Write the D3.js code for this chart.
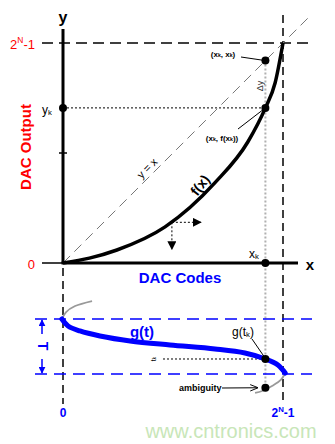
<!DOCTYPE html>
<html>
<head>
<meta charset="utf-8">
<script src="https://cdn.jsdelivr.net/npm/d3@7"></script>
<style>
  body { margin: 0; background: #fff; }
  svg { display: block; font-family: "Liberation Sans", Arial, sans-serif; }
</style>
</head>
<body>
<svg id="chart" width="335" height="444"></svg>
<script>
// transfer curve f(x), normalised codes / output
const fCodes  = [0, 0.12, 0.245, 0.464, 0.69, 0.84, 0.92, 0.964, 1];
const fOutput = [0, 0.022, 0.059, 0.164, 0.364, 0.55, 0.705, 0.818, 1];

// g(t), code against normalised time (0 .. T)
const gCodes = [-0.005, 0.023, 0.077, 0.168, 0.305, 0.486, 0.691, 0.827, 0.92, 0.977, 1.01];
const gTime  = [0, 0.127, 0.218, 0.309, 0.40, 0.473, 0.545, 0.618, 0.727, 0.836, 0.982];
// grey continuation outside the period
const gTopCodes = [0.132, 0.055, 0.014, -0.005];
const gTopTime  = [-0.327, -0.236, -0.127, 0];
const gLowCodes = [1.01, 0.99, 0.95, 0.905, 0.873];
const gLowTime  = [0.982, 1.109, 1.218, 1.309, 1.345];

const xk = 0.92, yk = 0.705, tk = 0.727, tAmb = 1.25;
const arrowCode = 0.495, arrowOut = 0.185;

const svg = d3.select("#chart");

const xScale = d3.scaleLinear().domain([0, 1]).range([63, 283]);
const yScale = d3.scaleLinear().domain([0, 1]).range([263, 43]);
const tScale = d3.scaleLinear().domain([0, 1]).range([319, 374]);

const RED = "#ff0000", BLUE = "#0000ff";

const defs = svg.append("defs");
defs.append("marker").attr("id", "headBlack")
    .attr("viewBox", "0 0 10 10").attr("refX", 9).attr("refY", 5)
    .attr("markerWidth", 9).attr("markerHeight", 9).attr("markerUnits", "userSpaceOnUse")
    .attr("orient", "auto")
    .append("path").attr("d", "M0,0L10,5L0,10Z").attr("fill", "#000");
defs.append("marker").attr("id", "headBlue")
    .attr("viewBox", "0 0 10 10").attr("refX", 9).attr("refY", 5)
    .attr("markerWidth", 7).attr("markerHeight", 7).attr("markerUnits", "userSpaceOnUse")
    .attr("orient", "auto")
    .append("path").attr("d", "M0,0L10,5L0,10Z").attr("fill", BLUE);
defs.append("marker").attr("id", "headOpen")
    .attr("viewBox", "0 0 10 10").attr("refX", 9).attr("refY", 5)
    .attr("markerWidth", 8).attr("markerHeight", 8).attr("markerUnits", "userSpaceOnUse")
    .attr("orient", "auto")
    .append("path").attr("d", "M0,1L10,5L0,9").attr("fill", "none").attr("stroke", "#000").attr("stroke-width", 1.2);

function seg(x1, y1, x2, y2, stroke, width, dash) {
    return svg.append("line")
        .attr("x1", x1).attr("y1", y1).attr("x2", x2).attr("y2", y2)
        .attr("stroke", stroke).attr("stroke-width", width)
        .attr("stroke-dasharray", dash || null);
}

// reference lines
seg(42, yScale(1), 312, yScale(1), "#000", 1.5, "11,6");
seg(xScale(1), 15, xScale(1), 404, "#000", 1.5, "8,5");
seg(xScale(0), 268, xScale(0), 404, "#000", 1.5, "8,5");
seg(xScale(0), yScale(0), xScale(1.12), yScale(1.12), "#777", 1, "10,6");
seg(xScale(0), yScale(yk), xScale(xk), yScale(yk), "#000", 1, "2,2");
seg(xScale(xk), yScale(xk), xScale(xk), tScale(tAmb), "#b0b0b0", 2, "2,2");

// blue period lines
seg(35, tScale(0), 312, tScale(0), BLUE, 1.5, "12,7");
seg(35, tScale(1), 312, tScale(1), BLUE, 1.5, "12,7");
seg(163, tScale(tk), xScale(xk), tScale(tk), "#000", 1, "2,2");

// axes
seg(xScale(0), 29, xScale(0), yScale(0), "#000", 3);
seg(xScale(0) - 1.5, yScale(0), 298, yScale(0), "#000", 3);
seg(42, yScale(0), xScale(0), yScale(0), "#000", 1.5);
seg(59, 153, 67, 153, "#000", 1.5);

// f(x)
const fLine = d3.line()
    .x(d => xScale(d[0])).y(d => yScale(d[1]))
    .curve(d3.curveMonotoneX);
svg.append("path")
    .attr("d", fLine(d3.zip(fCodes, fOutput)))
    .attr("fill", "none").attr("stroke", "#000").attr("stroke-width", 3.5);

// g(t)
const gLine = d3.line()
    .x(d => xScale(d[0])).y(d => tScale(d[1]))
    .curve(d3.curveCatmullRom);
svg.append("path")
    .attr("d", gLine(d3.zip(gTopCodes, gTopTime)))
    .attr("fill", "none").attr("stroke", "#999").attr("stroke-width", 1.8);
svg.append("path")
    .attr("d", gLine(d3.zip(gLowCodes, gLowTime)))
    .attr("fill", "none").attr("stroke", "#999").attr("stroke-width", 1.8);
svg.append("path")
    .attr("d", gLine(d3.zip(gCodes, gTime)))
    .attr("fill", "none").attr("stroke", BLUE).attr("stroke-width", 5)
    .attr("stroke-linecap", "round");

// small direction arrows on f(x)
const ax = xScale(arrowCode), ay = yScale(arrowOut);
seg(ax, ay, ax + 29, ay, "#000", 1, "2,2").attr("marker-end", "url(#headBlack)");
seg(ax, ay, ax, ay + 27, "#000", 1, "2,2").attr("marker-end", "url(#headBlack)");

// T arrows
seg(42, 334, 42, 320, BLUE, 1.5).attr("marker-end", "url(#headBlue)");
seg(42, 359, 42, 373, BLUE, 1.5).attr("marker-end", "url(#headBlue)");

// leader lines
seg(241, 57, xScale(xk), yScale(xk), "#000", 1);
seg(238, 129, xScale(xk), yScale(yk), "#000", 1);
seg(252, 339, xScale(xk) - 1, tScale(tk) - 2, "#000", 1);
seg(222, 388, xScale(xk) - 8, tScale(tAmb), "#000", 1).attr("marker-end", "url(#headOpen)");

// dots
const dots = [[xk, yScale(xk)], [xk, yScale(yk)], [0, yScale(yk)], [xk, yScale(0)], [xk, tScale(tk)], [xk, tScale(tAmb)]];
svg.selectAll(".dot").data(dots).join("circle")
    .attr("class", "dot")
    .attr("cx", d => xScale(d[0])).attr("cy", d => d[1])
    .attr("r", 4).attr("fill", "#000");

// text
function label(x, y, opts) {
    const t = svg.append("text")
        .attr("x", x).attr("y", y)
        .attr("text-anchor", opts.anchor || "middle")
        .attr("dominant-baseline", "central")
        .attr("font-size", opts.size || 12)
        .attr("font-weight", opts.weight || "normal")
        .attr("fill", opts.color || "#000");
    if (opts.rotate) t.attr("transform", `rotate(${opts.rotate},${x},${y})`);
    return t;
}
function parts(t, list, size) {
    list.forEach(p => {
        const s = t.append("tspan").text(p[0]);
        if (p[1] === "sub") s.attr("font-size", size * 0.65).attr("baseline-shift", "-25%");
        if (p[1] === "sup") s.attr("font-size", size * 0.65).attr("baseline-shift", "45%");
    });
}

label(63, 17, { size: 16, weight: "bold" }).text("y");
label(310, 264, { size: 15, weight: "bold" }).text("x");

let t = label(35, 44, { size: 13, color: RED, anchor: "end" });
parts(t, [["2"], ["N", "sup"], ["-1"]], 13);
label(35, 264, { size: 13, color: RED, anchor: "end" }).text("0");
t = label(52, 110, { size: 12, anchor: "end" });
parts(t, [["y"], ["k", "sub"]], 12);
t = label(254, 254, { size: 12 });
parts(t, [["x"], ["k", "sub"]], 12);

label(25, 147, { size: 15, weight: "bold", color: RED, rotate: -90 }).text("DAC  Output");
label(180, 277, { size: 15, weight: "bold", color: BLUE }).text("DAC  Codes");

label(147, 168, { size: 11, rotate: -45 }).text("y = x");
label(200, 185, { size: 14, weight: "bold", rotate: -52 }).text("f(x)");
label(260, 86, { size: 9, color: "#333", rotate: -90 }).text("Δy");

t = label(223, 54, { size: 8, weight: "bold" });
parts(t, [["(x"], ["k", "sub"], [", x"], ["k", "sub"], [")"]], 8);
t = label(222, 138, { size: 8, weight: "bold" });
parts(t, [["(x"], ["k", "sub"], [", f(x"], ["k", "sub"], ["))"]], 8);

label(142, 331, { size: 15, weight: "bold", color: BLUE }).text("g(t)");
t = label(243, 332, { size: 12 });
parts(t, [["g(t"], ["k", "sub"], [")"]], 12);
t = label(153, 359, { size: 7, rotate: -90 });
parts(t, [["t"], ["k", "sub"]], 7);
label(43, 346, { size: 14, weight: "bold", color: BLUE, rotate: 90 }).text("T");
label(179, 388, { size: 9, weight: "bold", anchor: "start" }).text("ambiguity");

label(63, 413, { size: 12, weight: "bold", color: BLUE }).text("0");
t = label(283, 413, { size: 12, weight: "bold", color: BLUE });
parts(t, [["2"], ["N", "sup"], ["-1"]], 12);

label(231, 431, { size: 20, color: "#c8e6b8" }).text("www.cntronics.com");
</script>
</body>
</html>
